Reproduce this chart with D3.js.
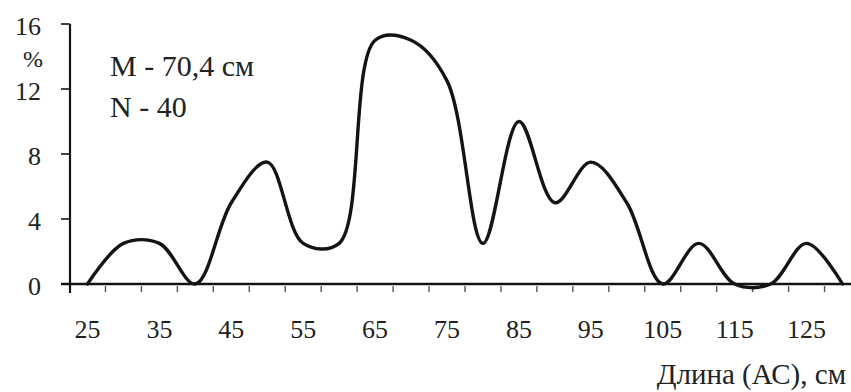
<!DOCTYPE html>
<html><head><meta charset="utf-8">
<script src="https://cdn.jsdelivr.net/npm/d3@7"></script>
<style>body{margin:0;background:#fff}svg{display:block}text{font-family:"Liberation Serif","DejaVu Serif",serif}</style>
</head><body>
<svg id="chart" width="851" height="392"></svg>
<script>
// ---- data ----
const categories = [25,30,35,40,45,50,55,60,65,70,75,80,85,90,95,100,105,110,115,120,125,130];
const values     = [0,2.5,2.5,0,5,7.5,2.5,2.5,15,15,12.5,2.5,10,5,7.5,5,0,2.5,0,0,2.5,0];
const xTickLabels = [25,35,45,55,65,75,85,95,105,115,125];
const yTickValues = [0,4,8,12,16];
const yUnit = "%";
const annotations = ["M - 70,4 см", "N - 40"];
const xTitle = "Длина (АС), см";

// ---- drawing ----
const svg = d3.select("#chart");
const ink = "#141414";

const x = d3.scaleBand().domain(categories).range([69.5, 860.5]).padding(0);
const y = d3.scaleLinear().domain([0,16]).range([284,24]);
const cx = c => x(c) + x.bandwidth()/2;

// axes lines
svg.append("line").attr("x1",70).attr("x2",70).attr("y1",y(16)).attr("y2",293)
  .attr("stroke",ink).attr("stroke-width",2.2);
svg.append("line").attr("x1",61).attr("x2",851).attr("y1",y(0)).attr("y2",y(0))
  .attr("stroke",ink).attr("stroke-width",2.4);

// y ticks and labels
const yg = svg.append("g");
yg.selectAll("line").data(yTickValues).join("line")
  .attr("x1",61).attr("x2",70).attr("y1",d=>y(d)).attr("y2",d=>y(d))
  .attr("stroke",ink).attr("stroke-width",1.6);
yg.selectAll("text").data(yTickValues).join("text")
  .attr("x",41).attr("y",d=>y(d)+11).attr("text-anchor","end")
  .attr("font-size",26).attr("fill","#222")
  .text(d=>d);
svg.append("text").attr("x",33).attr("y",67).attr("text-anchor","middle")
  .attr("font-size",24).attr("fill","#222").text(yUnit);

// x ticks (between categories)
svg.append("g").selectAll("line").data(categories.slice(1)).join("line")
  .attr("x1",d=>x(d)).attr("x2",d=>x(d)).attr("y1",286).attr("y2",292)
  .attr("stroke","#555").attr("stroke-width",1.4);
svg.append("g").selectAll("text").data(xTickLabels).join("text")
  .attr("x",d=>cx(d)).attr("y",338).attr("text-anchor","middle")
  .attr("font-size",26).attr("fill","#222")
  .text(d=>d);

// curve
const line = d3.line()
  .x((d,i)=>cx(categories[i]))
  .y(d=>y(d))
  .curve(d3.curveCatmullRom.alpha(0.5));
svg.append("path").attr("d", line(values))
  .attr("fill","none").attr("stroke",ink).attr("stroke-width",3.4)
  .attr("stroke-linejoin","round").attr("stroke-linecap","round");

// annotations
svg.append("g").selectAll("text").data(annotations).join("text")
  .attr("x",110).attr("y",(d,i)=>76+i*41)
  .attr("font-size",30).attr("fill","#222")
  .text(d=>d);

// x title
svg.append("text").attr("x",846).attr("y",384).attr("text-anchor","end")
  .attr("font-size",29).attr("fill","#222").text(xTitle);
</script>
</body></html>
